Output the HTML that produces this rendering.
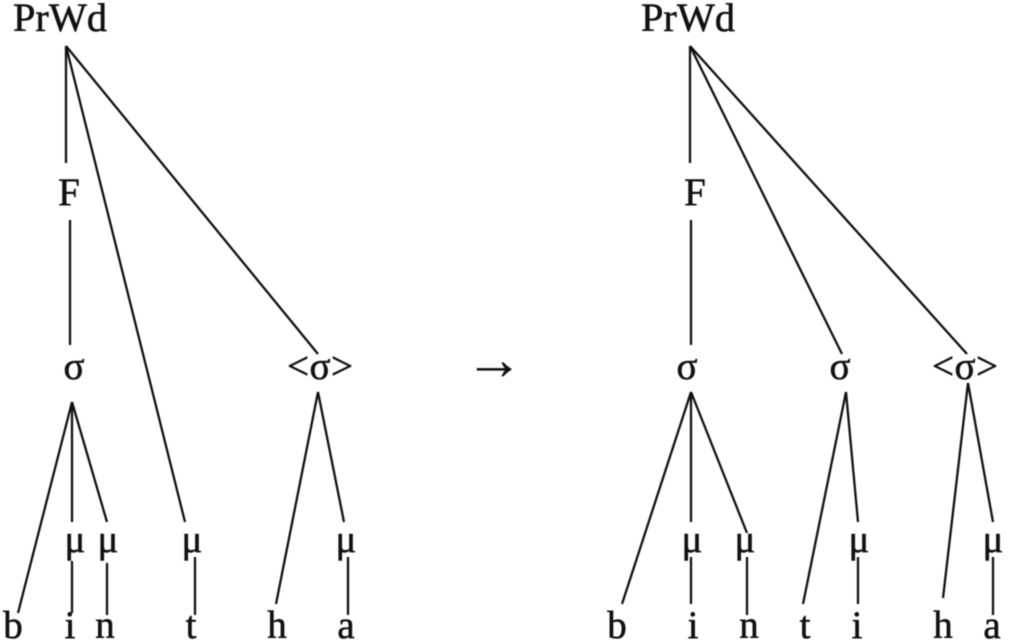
<!DOCTYPE html>
<html><head><meta charset="utf-8"><style>
html,body{margin:0;padding:0;background:#fff;width:1009px;height:642px;overflow:hidden}
svg{display:block;filter:blur(.45px)}
text{font-family:"Liberation Serif",serif;font-size:39px;fill:#111;stroke:#111;stroke-width:.55px;text-anchor:middle}
text.p{font-size:40px}
text.a{font-size:58px;stroke-width:.3px}
line{stroke:#111;stroke-width:2.3}
</style></head><body>
<svg width="1009" height="642" viewBox="0 0 1009 642" xmlns="http://www.w3.org/2000/svg">
<g>
<line x1="66" y1="46" x2="66" y2="163"/>
<line x1="66" y1="46" x2="185" y2="522"/>
<line x1="66" y1="46" x2="318" y2="354"/>
<line x1="70" y1="220" x2="70" y2="345"/>
<line x1="72" y1="402" x2="18" y2="613"/>
<line x1="72" y1="402" x2="72" y2="522"/>
<line x1="72" y1="402" x2="107" y2="522"/>
<line x1="72" y1="561" x2="72" y2="613"/>
<line x1="107" y1="563" x2="107" y2="615"/>
<line x1="195" y1="557" x2="195" y2="615"/>
<line x1="318" y1="392" x2="276" y2="604"/>
<line x1="318" y1="392" x2="344" y2="522"/>
<line x1="348" y1="557" x2="348" y2="615"/>

<line x1="690" y1="46" x2="690" y2="163"/>
<line x1="690" y1="46" x2="842" y2="354"/>
<line x1="690" y1="46" x2="967" y2="354"/>
<line x1="691" y1="220" x2="691" y2="345"/>
<line x1="691" y1="392" x2="622" y2="604"/>
<line x1="691" y1="392" x2="691" y2="522"/>
<line x1="691" y1="392" x2="747" y2="533"/>
<line x1="691" y1="557" x2="691" y2="604"/>
<line x1="747" y1="557" x2="747" y2="615"/>
<line x1="846" y1="392" x2="803" y2="604"/>
<line x1="846" y1="392" x2="858" y2="522"/>
<line x1="858" y1="557" x2="858" y2="604"/>
<line x1="968" y1="383" x2="943" y2="598"/>
<line x1="968" y1="383" x2="993" y2="522"/>
<line x1="993" y1="557" x2="993" y2="615"/>
</g>
<g>
<text class="p" x="60" y="31" textLength="94" lengthAdjust="spacingAndGlyphs">PrWd</text>
<text x="69" y="205">F</text>
<text x="74" y="379">σ</text>
<text x="298" y="379">&lt;</text>
<text x="320" y="379">σ</text>
<text x="342" y="379">&gt;</text>
<text x="75" y="552">μ</text>
<text x="108" y="552">μ</text>
<text x="192" y="552">μ</text>
<text x="346" y="552">μ</text>
<text x="13" y="638">b</text>
<text x="70" y="638">i</text>
<text x="105" y="638">n</text>
<text x="191" y="638">t</text>
<text x="277" y="638">h</text>
<text x="346" y="638">a</text>

<text class="a" x="494" y="379">→</text>

<text class="p" x="688" y="31" textLength="94" lengthAdjust="spacingAndGlyphs">PrWd</text>
<text x="695" y="205">F</text>
<text x="687" y="379">σ</text>
<text x="840" y="379">σ</text>
<text x="943" y="379">&lt;</text>
<text x="965" y="379">σ</text>
<text x="987" y="379">&gt;</text>
<text x="692" y="552">μ</text>
<text x="745" y="552">μ</text>
<text x="859" y="552">μ</text>
<text x="993" y="552">μ</text>
<text x="617" y="638">b</text>
<text x="693" y="638">i</text>
<text x="749" y="638">n</text>
<text x="805" y="638">t</text>
<text x="857" y="638">i</text>
<text x="943" y="638">h</text>
<text x="992" y="638">a</text>
</g>
</svg>
</body></html>
